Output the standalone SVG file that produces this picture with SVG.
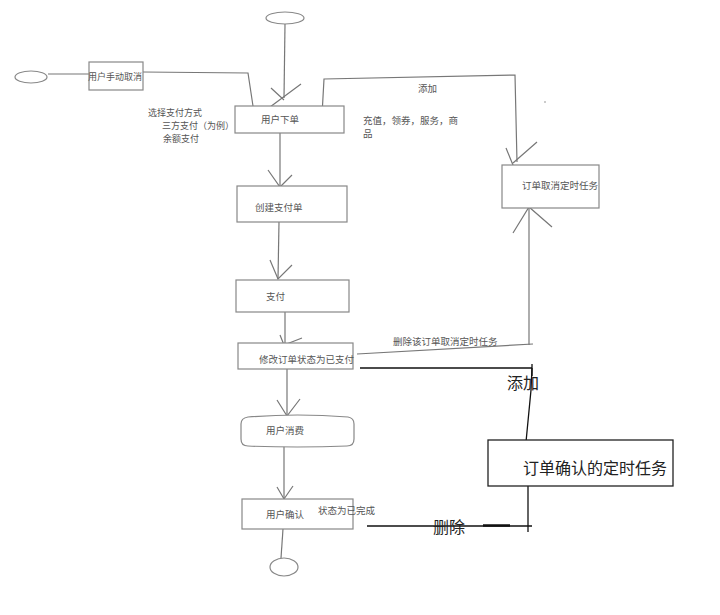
<svg xmlns="http://www.w3.org/2000/svg" width="720" height="615" viewBox="0 0 720 615">
<style>
.box{fill:#fff;stroke:#888;stroke-width:1.2}
.bbox{fill:#fff;stroke:#222;stroke-width:1.3}
.ln{fill:none;stroke:#777;stroke-width:1.2}
.dk{fill:none;stroke:#111;stroke-width:1.3}
.t{font-family:"Noto Sans CJK SC","Noto Sans",sans-serif;font-size:9.5px;fill:#555}
.ts{font-family:"Noto Sans CJK SC","Noto Sans",sans-serif;font-size:9px;fill:#555}
.tb{font-family:"Noto Sans CJK SC","Noto Sans",sans-serif;font-size:16px;fill:#222}
</style>
<rect width="720" height="615" fill="#fff"/>
<g id="connectors">
<path class="ln" d="M285 24 L284 98"/>
<path class="ln" d="M270 107 L301 84 M271 88 L284 100"/>
<path class="ln" d="M48 74 L89 74"/>
<path class="ln" d="M143 72 L248 73 L253 106"/>
<path class="ln" d="M322 115 L324 79 L515 75 L517 162"/>
<path class="ln" d="M506 148 L515 170 M537 142 L513 163"/>
<path class="ln" d="M280 133 L280 186"/>
<path class="ln" d="M268 170 L280 187 L292 175"/>
<path class="ln" d="M279 222 L278 279"/>
<path class="ln" d="M270 260 L278 279 L292 265"/>
<path class="ln" d="M285 312 L285 344"/>
<path class="ln" d="M280 335 L284 345 L302 338"/>
<path class="ln" d="M287 369 L287 416"/>
<path class="ln" d="M277 400 L287 416 L300 399"/>
<path class="ln" d="M284 446 L284 498"/>
<path class="ln" d="M277 487 L284 499 L293 486"/>
<path class="ln" d="M283 529 L281 558"/>
<path class="ln" d="M529 345 L529 208"/>
<path class="ln" d="M513 233 L529 207 L552 227"/>
<path class="ln" d="M357 354 L533 344"/>
<path class="dk" d="M360 368 L532 368 M532 364 L532 376"/>
<path class="dk" d="M532 368 L531 390 L526 442"/>
<path class="dk" d="M528 482 L528 532"/>
<path class="dk" d="M367 526 L532 526"/>
<path d="M483 525.5 L510 525.5" stroke="#111" stroke-width="2.5"/>
<circle cx="545" cy="102" r="0.8" fill="#888"/>
</g>
<g id="start-top"><ellipse class="box" cx="285" cy="18" rx="19" ry="6"/></g>
<g id="start-left"><ellipse class="box" cx="31" cy="77" rx="16" ry="6"/></g>
<g id="end"><ellipse class="box" cx="284" cy="567" rx="14" ry="9"/></g>
<g id="cancel-manual"><rect class="box" x="89" y="62" width="54" height="28"/><text class="ts" x="88" y="80">用户手动取消</text></g>
<g id="order"><rect class="box" x="235" y="106" width="109" height="27"/><text class="t" x="261" y="123">用户下单</text></g>
<g id="create-pay"><rect class="box" x="237" y="186" width="110" height="36"/><text class="t" x="255" y="211">创建支付单</text></g>
<g id="pay"><rect class="box" x="236" y="280" width="113" height="32"/><text class="t" x="266" y="300">支付</text></g>
<g id="paid"><rect class="box" x="238" y="343" width="115" height="26"/><text class="t" x="259" y="363">修改订单状态为已支付</text></g>
<g id="consume"><path class="box" d="M248 417 Q297 413 348 417 Q354 418 354 424 L354 439 Q354 446 347 446 Q297 448 248 446 Q241 446 241 439 L241 424 Q241 418 248 417 Z"/><text class="t" x="266" y="434">用户消费</text></g>
<g id="confirm"><rect class="box" x="242" y="499" width="111" height="30"/><text class="t" x="266" y="518">用户确认</text><text class="t" x="318" y="514">状态为已完成</text></g>
<g id="cancel-task"><rect class="box" x="502" y="165" width="97" height="43"/><text class="t" x="522" y="189">订单取消定时任务</text></g>
<g id="confirm-task"><rect class="bbox" x="488" y="440" width="185" height="46"/><text class="tb" x="523" y="474">订单确认的定时任务</text></g>
<g id="labels">
<text class="ts" x="148" y="116">选择支付方式</text>
<text class="ts" x="162" y="129">三方支付（为例）</text>
<text class="ts" x="163" y="142">余额支付</text>
<text class="t" x="418" y="92">添加</text>
<text class="t" x="363" y="124">充值，领券，服务，商</text>
<text class="t" x="363" y="137">品</text>
<text class="t" x="393" y="345">删除该订单取消定时任务</text>
<text class="tb" x="507" y="389">添加</text>
<text class="tb" x="433" y="533">删除</text>
</g>
</svg>
